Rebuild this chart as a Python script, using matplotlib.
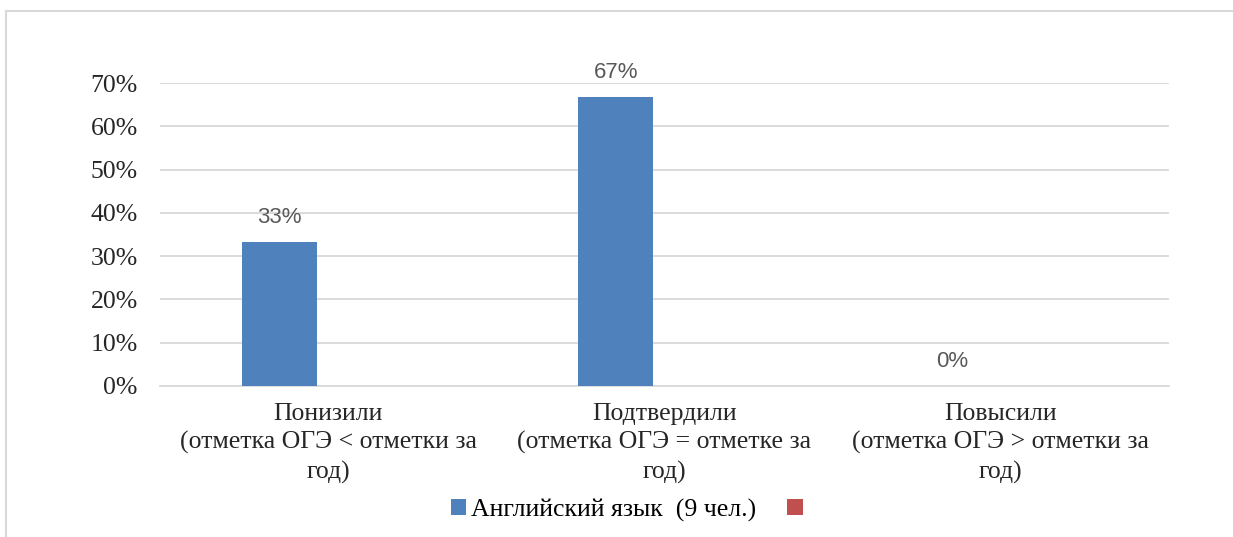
import matplotlib
matplotlib.use("Agg")
import matplotlib.pyplot as plt
from matplotlib.patches import Patch
from matplotlib.lines import Line2D

categories = ["Понизили\n(отметка ОГЭ < отметки за\nгод)",
              "Подтвердили\n(отметка ОГЭ = отметке за\nгод)",
              "Повысили\n(отметка ОГЭ > отметки за\nгод)"]
values = [33.3, 66.7, 0.0]
value_labels = ["33%", "67%", "0%"]
yticks = [0, 10, 20, 30, 40, 50, 60, 70]
series_name = "Английский язык  (9 чел.)"

blue = "#4F81BD"
red = "#C0504D"
grid = "#D9D9D9"

fig = plt.figure(figsize=(12.33, 5.37), dpi=100)
ax = fig.add_axes([160/1233, 151/537, 1009/1233, 303/537])

x = list(range(len(categories)))
offset = -0.145
width = 0.223
xpos = [i + offset for i in x]
ax.bar(xpos, values, width=width, color=blue, zorder=3)

for xp, v, lab in zip(xpos, values, value_labels):
    ax.annotate(lab, (xp, v), xytext=(0, 10), textcoords="offset points",
                ha="center", va="bottom", fontsize=16, color="#595959",
                family="Liberation Sans")

ax.set_xlim(-0.5, 2.5)
ax.set_ylim(0, 70)
ax.set_yticks(yticks)
ax.set_yticklabels(["%d%%" % t for t in yticks], family="Liberation Serif",
                   fontsize=18.5, color="#262626")
ax.set_xticks(x)
ax.set_xticklabels(categories, family="Liberation Serif", fontsize=18.5,
                   color="#262626", linespacing=1.38)
ax.tick_params(axis="both", length=0)
ax.tick_params(axis="y", pad=16)
ax.tick_params(axis="x", pad=12)
ax.grid(axis="y", color=grid, lw=1.3, zorder=0)
for s in ["top", "right", "left"]:
    ax.spines[s].set_visible(False)
ax.spines["bottom"].set_color(grid)
ax.spines["bottom"].set_linewidth(1.3)

handles = [Patch(facecolor=blue), Patch(facecolor=red)]
leg = fig.legend(handles, [series_name, ""], loc="center",
                 bbox_to_anchor=(0.5105, 1 - 510/537),
                 ncol=2, frameon=False, handlelength=0.6, handleheight=0.6,
                 handletextpad=0.2, columnspacing=1.2,
                 prop={"family": "Liberation Serif", "size": 18.5})

# outer chart frame
fig.add_artist(Line2D([6/1233, 1], [1 - 11/537, 1 - 11/537], color="#D9D9D9", lw=1.5))
fig.add_artist(Line2D([6/1233, 6/1233], [0, 1 - 11/537], color="#D9D9D9", lw=1.5))

fig.savefig("out.png", dpi=100)
